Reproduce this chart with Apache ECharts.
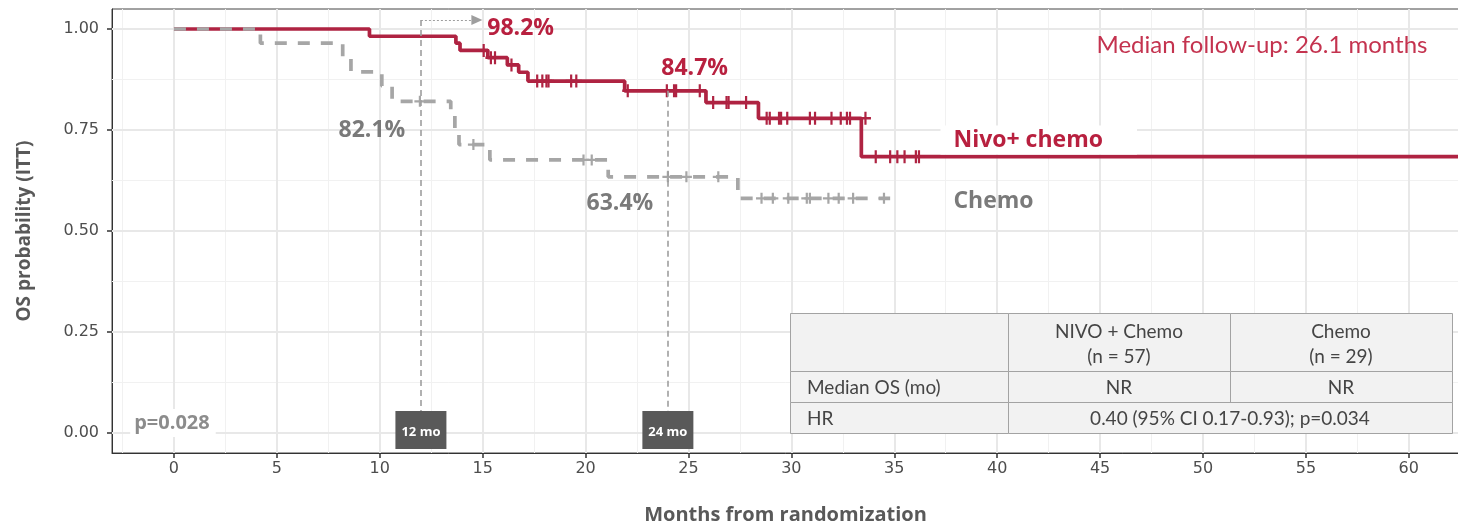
<!DOCTYPE html>
<html><head><meta charset="utf-8">
<script src="https://cdn.jsdelivr.net/npm/echarts@6/dist/echarts.min.js"></script>
<style>html,body{margin:0;padding:0;background:#fff}#c{width:1458px;height:521px}</style>
</head><body><div id="c"></div>
<script>
// ---------- DATA ----------
const nivoTimes = [0, 9.5, 13.7, 13.9, 15.25, 16.2, 16.75, 17.2, 21.9, 25.85, 28.4, 33.4, 62.44];
const nivoSurv  = [1, 0.982, 0.965, 0.947, 0.929, 0.911, 0.893, 0.871, 0.847, 0.818, 0.779, 0.684, 0.684];
const nivoCensorTimes = [15.05, 15.4, 15.6, 16.4, 17.65, 17.9, 18.1, 18.2, 19.3, 19.55, 22.05, 23.95, 24.3, 24.4, 25.55,
  26.2, 26.85, 26.95, 27.8, 28.8, 28.95, 29.4, 29.5, 29.8, 30.9, 31.15, 31.95, 32.4, 32.7, 32.85, 33.6,
  34.1, 34.8, 35.15, 35.5, 36.05, 36.2];
const nivoCensorSurv = [0.947, 0.929, 0.929, 0.911, 0.871, 0.871, 0.871, 0.871, 0.871, 0.871, 0.847, 0.847, 0.847, 0.847, 0.847,
  0.818, 0.818, 0.818, 0.818, 0.779, 0.779, 0.779, 0.779, 0.779, 0.779, 0.779, 0.779, 0.779, 0.779, 0.779, 0.779,
  0.684, 0.684, 0.684, 0.684, 0.684, 0.684];

const chemoTimes = [0, 4.2, 8.2, 8.6, 10.1, 10.6, 13.45, 13.65, 13.85, 15.35, 21.1, 27.4, 34.8];
const chemoSurv  = [1, 0.965, 0.930, 0.894, 0.859, 0.821, 0.786, 0.750, 0.714, 0.676, 0.634, 0.581, 0.581];
const chemoCensorTimes = [11.95, 14.55, 19.9, 20.3, 24.0, 24.9, 26.45, 28.55, 29.1, 29.85, 30.75, 30.9, 31.8, 32.3, 33.0, 34.5];
const chemoCensorSurv  = [0.821, 0.714, 0.676, 0.676, 0.634, 0.634, 0.634, 0.581, 0.581, 0.581, 0.581, 0.581, 0.581, 0.581, 0.581, 0.581];

const landmarkMonths = [12, 24];
const landmarkLabels = ['12 mo', '24 mo'];
const nivoLandmark = [0.982, 0.847];
const chemoLandmark = [0.821, 0.634];

const xTicks = [0, 5, 10, 15, 20, 25, 30, 35, 40, 45, 50, 55, 60];
const xTickLabels = ['0','5','10','15','20','25','30','35','40','45','50','55','60'];
const xMinorTicks = [-2.5, 2.5, 7.5, 12.5, 17.5, 22.5, 27.5, 32.5, 37.5, 42.5, 47.5, 52.5, 57.5];
const yTicks = [0, 0.25, 0.5, 0.75, 1];
const yTickLabels = ['0.00', '0.25', '0.50', '0.75', '1.00'];
const yMinorTicks = [0.125, 0.375, 0.625, 0.875];

const tableHeader = ['', 'NIVO + Chemo\n(n = 57)', 'Chemo\n(n = 29)'];
const tableRow1 = ['Median OS (mo)', 'NR', 'NR'];
const tableRow2 = ['HR', '0.40 (95% CI 0.17-0.93); p=0.034'];

// ---------- STYLE / LAYOUT ----------
const X_MIN = -3.01, X_MAX = 62.44, Y_MIN = -0.0495, Y_MAX = 1.0495;
const RED = '#AF2342', GRAY = '#A6A6A6', GRAYTXT = '#7A7A7A';
const BOLD = '"Open Sans", "Noto Sans", sans-serif';
const TICKFONT = 'DejaVu Sans';

const pts = (xs, ys) => xs.map((x, i) => [x, ys[i]]);
const vLines = (vals) => vals.map(v => [{coord: [v, Y_MIN]}, {coord: [v, Y_MAX]}]);
const hLines = (vals) => vals.map(v => [{coord: [X_MIN, v]}, {coord: [X_MAX, v]}]);
const plus = 'path://M4,0H6V4H10V6H6V10H4V6H0V4H4Z';

function gridSeries(data, color, width) {
  return {type: 'line', data: [], silent: true, z: 1,
    markLine: {silent: true, symbol: 'none', z: 1, animation: false, label: {show: false},
      lineStyle: {color: color, width: width, type: 'solid'}, emphasis: {disabled: true}, data: data}};
}

const annos = [
  {t: nivoLandmark[0], fmt: v => (v*100).toFixed(1)+'%', x: 15.2, y: 1.002, pos: 'right', color: '#B8203F', size: 23, weight: 'bold', fam: BOLD},
  {t: nivoLandmark[1], fmt: v => (v*100).toFixed(1)+'%', x: 25.3, y: 0.903, pos: 'inside', color: '#B8203F', size: 23, weight: 'bold', fam: BOLD},
  {t: chemoLandmark[0], fmt: v => (v*100).toFixed(1)+'%', x: 9.62, y: 0.75, pos: 'inside', color: GRAYTXT, size: 23, weight: 'bold', fam: BOLD},
  {t: chemoLandmark[1], fmt: v => (v*100).toFixed(1)+'%', x: 21.67, y: 0.569, pos: 'inside', color: GRAYTXT, size: 23, weight: 'bold', fam: BOLD},
  {t: 'Nivo+ chemo', x: 37.22, y: 0.725, pos: 'right', color: '#B8203F', size: 23, weight: 'bold', fam: BOLD, bg: '#fff', pad: [3, 34, 3, 13]},
  {t: 'Chemo', x: 37.85, y: 0.574, pos: 'right', color: GRAYTXT, size: 23, weight: 'bold', fam: BOLD},
  {t: 'Median follow-up: 26.1 months', x: 60.93, y: 0.960, pos: 'left', color: '#C4334F', size: 24, weight: 'normal', fam: 'Lato, sans-serif'},
  {t: 'p=0.028', x: -2.15, y: 0.025, pos: 'right', color: '#8C8C8C', size: 20, weight: 'bold', fam: BOLD, bg: '#fff', pad: [4, 6, 4, 4]}
];

const annoData = annos.map(a => ({
  value: [a.x, a.y],
  label: {show: true, position: a.pos, distance: 0,
    formatter: a.fmt ? a.fmt(a.t) : a.t,
    color: a.color, fontSize: a.size, fontWeight: a.weight, fontFamily: a.fam, opacity: 1,
    backgroundColor: a.bg || 'transparent', padding: a.pad || 0}
}));

const chart = echarts.init(document.getElementById('c'), null, {renderer: 'canvas'});

const T = {x: [790, 1008, 1230, 1452], y: [313, 371, 402, 433]};
const cellStyle = {fill: '#F2F2F2', stroke: '#A3A3A3', lineWidth: 1};
const tFont = '19px Lato, sans-serif';
const tColor = '#454545';
const rects = [];
for (let r = 0; r < 2; r++) for (let c = 0; c < 3; c++) {
  rects.push({type: 'rect', shape: {x: T.x[c] + 0.5, y: T.y[r] + 0.5, width: T.x[c+1] - T.x[c], height: T.y[r+1] - T.y[r]}, style: cellStyle, z: 100});
}
rects.push({type: 'rect', shape: {x: T.x[0] + 0.5, y: T.y[2] + 0.5, width: T.x[1] - T.x[0], height: T.y[3] - T.y[2]}, style: cellStyle, z: 100});
rects.push({type: 'rect', shape: {x: T.x[1] + 0.5, y: T.y[2] + 0.5, width: T.x[3] - T.x[1], height: T.y[3] - T.y[2]}, style: cellStyle, z: 100});
const txt = (s, x, y, align) => ({type: 'text', z: 101, style: {text: s, x: x, y: y, align: align, verticalAlign: 'middle', font: tFont, fill: tColor, lineHeight: 25}});
const mid = (c) => (T.x[c] + T.x[c+1]) / 2;
const rowMid = (r) => (T.y[r] + T.y[r+1]) / 2 + 1;
const texts = [
  txt(tableHeader[1], mid(1), rowMid(0) + 1, 'center'),
  txt(tableHeader[2], mid(2), rowMid(0) + 1, 'center'),
  txt(tableRow1[0], T.x[0] + 17, rowMid(1), 'left'),
  txt(tableRow1[1], mid(1), rowMid(1), 'center'),
  txt(tableRow1[2], mid(2), rowMid(1), 'center'),
  txt(tableRow2[0], T.x[0] + 17, rowMid(2), 'left'),
  txt(tableRow2[1], (T.x[1] + T.x[3]) / 2, rowMid(2), 'center')
];

const option = {
  animation: false,
  backgroundColor: '#fff',
  grid: {left: 112, right: -1, top: 9, bottom: 68, outerBoundsMode: 'none', containLabel: false,
    show: true, borderColor: '#444', borderWidth: 1, backgroundColor: 'transparent'},
  xAxis: {
    type: 'value', min: X_MIN, max: X_MAX,
    splitLine: {show: false},
    axisLine: {show: true, onZero: false, lineStyle: {color: '#333', width: 1}},
    axisTick: {show: true, customValues: xTicks, length: 5, lineStyle: {color: '#333', width: 1.5}},
    axisLabel: {customValues: xTicks, formatter: v => xTickLabels[xTicks.indexOf(v)] ?? '', fontSize: 16, color: '#4d4d4d', fontFamily: TICKFONT, margin: 8},
    name: 'Months from randomization', nameLocation: 'middle', nameGap: 52,
    nameTextStyle: {fontSize: 20, fontWeight: 'bold', color: '#595959', fontFamily: BOLD}
  },
  yAxis: {
    type: 'value', min: Y_MIN, max: Y_MAX,
    splitLine: {show: false},
    axisLine: {show: true, onZero: false, lineStyle: {color: '#333', width: 1}},
    axisTick: {show: true, customValues: yTicks, length: 5, lineStyle: {color: '#333', width: 1.5}},
    axisLabel: {customValues: yTicks, formatter: v => yTickLabels[yTicks.indexOf(v)] ?? '', fontSize: 16, color: '#4d4d4d', fontFamily: TICKFONT, margin: 13},
    name: 'OS probability (ITT)', nameLocation: 'middle', nameGap: 78, nameRotate: 90,
    nameTextStyle: {fontSize: 19, fontWeight: 'bold', color: '#595959', fontFamily: BOLD}
  },
  series: [
    gridSeries(vLines(xMinorTicks).concat(hLines(yMinorTicks)), '#F1F1F1', 1),
    gridSeries(vLines(xTicks).concat(hLines(yTicks)), '#E8E8E8', 2),
    {
      type: 'line', name: 'Nivo+ chemo', data: pts(nivoTimes, nivoSurv), step: 'end', showSymbol: false, z: 3,
      lineStyle: {color: RED, width: 3.7}, silent: true
    },
    {
      type: 'scatter', data: pts(nivoCensorTimes, nivoCensorSurv), symbol: plus, symbolSize: [11, 13], z: 3,
      itemStyle: {color: RED, opacity: 1}, silent: true
    },
    {
      type: 'line', name: 'Chemo', data: pts(chemoTimes, chemoSurv), step: 'end', showSymbol: false, z: 4,
      lineStyle: {color: GRAY, width: 3.7, type: [12, 11], cap: 'butt'}, silent: true
    },
    {
      type: 'scatter', data: pts(chemoCensorTimes, chemoCensorSurv), symbol: plus, symbolSize: [11, 11], z: 4,
      itemStyle: {color: GRAY, opacity: 1}, silent: true
    },
    {
      type: 'scatter', data: annoData, symbolSize: 1, itemStyle: {color: 'rgba(0,0,0,0)', opacity: 1}, z: 6, silent: true,
      markLine: {
        silent: true, z: 5, animation: false, label: {show: false}, emphasis: {disabled: true},
        data: [
          [{coord: [landmarkMonths[0], 1.022], symbol: 'none', lineStyle: {color: '#9E9E9E', width: 1.6, type: [6, 4]}}, {coord: [landmarkMonths[0], 0.03], symbol: 'none'}],
          [{coord: [landmarkMonths[1], nivoLandmark[1]], symbol: 'none', lineStyle: {color: '#9E9E9E', width: 1.6, type: [6, 4]}}, {coord: [landmarkMonths[1], 0.03], symbol: 'none'}],
          [{coord: [landmarkMonths[0], 1.022], symbol: 'none', lineStyle: {color: '#9E9E9E', width: 1, type: [2, 2]}}, {coord: [14.72, 1.022], symbol: 'triangle', symbolSize: [10, 11]}]
        ]
      },
      markPoint: {
        silent: true, z: 7, animation: false,
        symbol: 'rect', symbolSize: [51, 38],
        itemStyle: {color: '#595959', opacity: 1},
        label: {show: true, color: '#fff', fontSize: 13, fontWeight: 'bold', fontFamily: BOLD, offset: [0, 2]},
        data: landmarkMonths.map((m, i) => ({coord: [m, 0.0074], value: landmarkLabels[i], label: {formatter: landmarkLabels[i]}}))
      }
    }
  ],
  graphic: rects.concat(texts)
};
chart.setOption(option);
</script>
</body></html>
